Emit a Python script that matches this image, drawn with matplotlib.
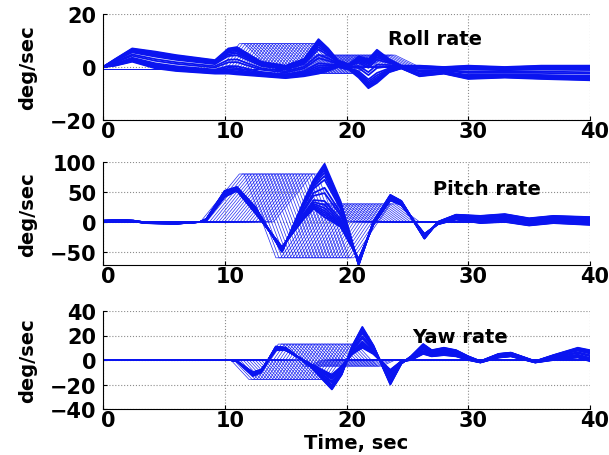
import matplotlib
matplotlib.use('Agg')
import matplotlib.pyplot as plt
import matplotlib.transforms as mtransforms

plt.rcParams['font.family'] = ['DejaVu Sans']
plt.rcParams['font.weight'] = 'bold'

BLUE = '#0a14f0'

time_ticks = [0, 10, 20, 30, 40]

# time offsets of the shifted (meshed) runs of the ensemble
mesh_shifts = [0.0, 0.25, 0.5, 0.75, 1.0, 1.25, 1.5, 1.75, 2.0, 2.25, 2.5, 2.75, 3.0,
               3.25, 3.5, 3.75, 4.0, 4.25, 4.5, 4.75, 5.0, 5.25, 5.5, 5.75, 6.0]
# blend weights between upper and lower members of the dense bundle
band_weights = [0.0, 0.04, 0.08, 0.12, 0.17, 0.23, 0.3, 0.45, 0.55, 0.7, 0.77, 0.83,
                0.88, 0.92, 0.96, 1.0]

# ---- Roll rate ----
roll_t = [0, 1, 2.4, 4.3, 6, 9.2, 10.3, 11, 13, 15, 16.5, 17.7, 18.5, 19.3, 20.2, 21, 21.8, 22.5, 23.5, 24.5, 26, 28, 30, 33, 36, 40]
roll_hi = [0, 3, 7, 5.8, 4.5, 2.6, 7, 7.5, 2, 0.5, 3, 10.5, 7, 2.5, 1, 4, 3, 6.5, 3, 0.5, 0.5, 0, 0.5, 0, 0.5, 0.5]
roll_lo = [0, 0.5, 2, -0.5, -1.5, -2.5, -2.5, -2.8, -3.5, -4.2, -3.5, -2.5, -1.5, 0, -1, -4, -8, -6, -2, -0.5, -3.5, -2.5, -4.5, -4, -4.5, -5]
roll_mesh_t = [9.6, 11.2, 11.6, 14.2, 14.6, 17.6, 18.0, 20.0]
roll_mesh_v = [-1, 8.8, 8.8, -2.5, -2.5, 4.5, 4.5, 0]
roll_mesh_pre, roll_mesh_post = -1, -0.5

# ---- Pitch rate ----
pitch_t = [0, 1.5, 2.5, 3.5, 6, 8, 8.5, 10, 11, 12.5, 14.7, 16.5, 17.3, 18.2, 19.5, 21, 22.2, 23.6, 24.5, 26.4, 27.5, 29, 31, 33, 35, 37, 40]
pitch_hi = [2, 3, 2, -1, -2, 0, 5, 52, 58, 25, -50, 35, 70, 97, 35, -72, 0, 45, 35, -28, 0, 12, 10, 13, 6, 10, 8]
pitch_lo = [1, 2, 1, -2, -3, 0, 3, 42, 52, 15, -42, 5, 22, 8, -8, -62, -5, 36, 28, -20, -4, 4, -2, 0, -6, -2, -5]
pitch_mesh_t = [8.0, 11.2, 11.6, 14.2, 14.6, 17.6, 18.0, 20.0]
pitch_mesh_v = [0, 80, 80, -60, -60, 30, 30, 0]
pitch_mesh_pre, pitch_mesh_post = 0, 0

# ---- Yaw rate ----
yaw_t = [0, 10.5, 11, 12.3, 13, 14.2, 15, 17, 18.8, 19.6, 20.5, 21.3, 22.2, 23.6, 24.5, 25.3, 26.3, 27, 28, 29, 30, 31, 32.5, 33.5, 35.5, 37, 39, 40]
yaw_hi = [0, 0, -1, -13, -10, 11, 10, -5, -24, -12, 12, 27, 12, -20, -3, 3, 13, 8, 10, 8, 3, -1, 5, 6, -1, 4, 10, 8]
yaw_lo = [0, 0, -1, -10, -8, 8, 8, -3, -12, -5, 5, 10, 5, -8, -1, 0, 5, 3, 4, 3, 0, -2, 2, 3, -2, 0, 2, -1]
yaw_mesh_t = [10.5, 12.0, 12.4, 14.4, 14.8, 16.5, 16.9, 18.0]
yaw_mesh_v = [0, -16, -16, 13, 13, -5, -5, 0]
yaw_mesh_pre, yaw_mesh_post = 0, 0

panels = [
    dict(title='Roll rate', t=roll_t, hi=roll_hi, lo=roll_lo, mt=roll_mesh_t, mv=roll_mesh_v,
         pre=roll_mesh_pre, post=roll_mesh_post, ylim=(-20, 20), yticks=[-20, 0, 20],
         label_xy=(27.3, 10.6)),
    dict(title='Pitch rate', t=pitch_t, hi=pitch_hi, lo=pitch_lo, mt=pitch_mesh_t, mv=pitch_mesh_v,
         pre=pitch_mesh_pre, post=pitch_mesh_post, ylim=(-72, 100), yticks=[-50, 0, 50, 100],
         label_xy=(31.5, 55)),
    dict(title='Yaw rate', t=yaw_t, hi=yaw_hi, lo=yaw_lo, mt=yaw_mesh_t, mv=yaw_mesh_v,
         pre=yaw_mesh_pre, post=yaw_mesh_post, ylim=(-40, 40), yticks=[-40, -20, 0, 20, 40],
         label_xy=(29.3, 19)),
]

fig = plt.figure(figsize=(6.09, 4.56), dpi=100)
W, H = 609, 456
boxes = [(15, 121), (163, 266), (312, 410)]
left, right = 103, 590
xoff = mtransforms.ScaledTranslation(5 / 100, 0, fig.dpi_scale_trans)

for p, (top, bot) in zip(panels, boxes):
    ax = fig.add_axes([left / W, 1 - bot / H, (right - left) / W, (bot - top) / H])
    for s in mesh_shifts:
        tt = [0] + [x + s for x in p['mt']] + [40]
        vv = [p['pre']] + p['mv'] + [p['post']]
        ax.plot(tt, vv, color=BLUE, lw=0.5, alpha=0.9)
    for w in band_weights:
        vv = [w * a + (1 - w) * b for a, b in zip(p['hi'], p['lo'])]
        ax.plot(p['t'], vv, color=BLUE, lw=1.3)
    ax.set_xlim(0, 40)
    ax.set_ylim(*p['ylim'])
    ax.set_xticks(time_ticks)
    ax.set_yticks(p['yticks'])
    ax.tick_params(direction='in', length=3, labelsize=15)
    ax.tick_params(axis='x', pad=1)
    ax.tick_params(axis='y', pad=5)
    for lab in ax.get_xticklabels():
        lab.set_fontweight('bold')
        lab.set_transform(lab.get_transform() + xoff)
    for lab in ax.get_yticklabels():
        lab.set_fontweight('bold')
    ax.grid(True, linestyle=':', color='#8c8c8c', lw=0.8)
    ax.spines['top'].set_visible(False)
    ax.spines['right'].set_visible(False)
    ax.set_ylabel('deg/sec', fontsize=14, fontweight='bold')
    ax.yaxis.set_label_coords(-0.135, 0.5)
    ax.text(p['label_xy'][0], p['label_xy'][1], p['title'], ha='center', va='center',
            fontsize=14, fontweight='bold')
    last_ax = ax

last_ax.set_xlabel('Time, sec', fontsize=14, fontweight='bold')
last_ax.xaxis.set_label_coords(0.52, -0.25)

fig.savefig('out.png', dpi=100)
